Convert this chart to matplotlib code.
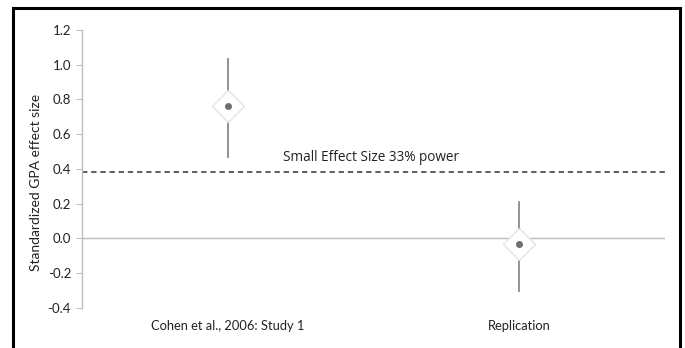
import matplotlib
matplotlib.use("Agg")
import matplotlib.pyplot as plt
from matplotlib.lines import Line2D

# datos
estudios = ["Cohen et al., 2006: Study 1", "Replication"]
efecto = [0.765, -0.03]
ic_bajo = [0.47, -0.30]
ic_alto = [1.03, 0.21]
umbral_pequeno = 0.38
yticks = [-0.4, -0.2, 0.0, 0.2, 0.4, 0.6, 0.8, 1.0, 1.2]

plt.rcParams["font.family"] = ["Lato", "DejaVu Sans"]

fig = plt.figure(figsize=(6.85, 3.48), dpi=100)
ax = fig.add_axes([0.12, 0.115, 0.851, 0.799])

pos = [0.5, 1.5]
gris = "#8a8a8a"

# linea del cero y umbral
ax.axhline(0, color="#bdbdbd", lw=1, zorder=1)
ax.axhline(umbral_pequeno, color="#333333", lw=1.1, ls=(0, (3.5, 2.5)), zorder=1)
ax.text(0.69, 0.466, "Small Effect Size 33% power", fontsize=9.8,
        family=["Open Sans", "DejaVu Sans"], color="#222222", va="center", ha="left")

# barras de error y marcadores
for x, m, lo, hi in zip(pos, efecto, ic_bajo, ic_alto):
    ax.plot([x, x], [lo, hi], color=gris, lw=1.3, zorder=2)
ax.plot(pos, efecto, "D", ms=16, mfc="white", mec="#e4e4e4", mew=1, zorder=3)
ax.plot(pos, efecto, "o", ms=4, color="#707070", zorder=4)

ax.set_xlim(0, 2)
ax.set_ylim(-0.4, 1.2)
ax.set_yticks(yticks)
ax.set_yticklabels([f"{v:.1f}" for v in yticks], fontsize=9.5, color="#222222")
ax.set_xticks(pos)
ax.set_xticklabels(estudios, fontsize=9.3, color="#222222")
ax.tick_params(axis="x", length=0, pad=9)
ax.tick_params(axis="y", length=4, color="#bdbdbd", pad=4)
ax.set_ylabel("Standardized GPA effect size", fontsize=10, color="#222222")
ax.yaxis.set_label_coords(-0.069, 0.45)

for lado in ["top", "right", "bottom"]:
    ax.spines[lado].set_visible(False)
ax.spines["left"].set_color("#bdbdbd")
ax.spines["left"].set_linewidth(1)

# marco negro de la figura
for xs, ys in [([0.019, 0.019], [0, 0.977]), ([0.019, 0.993], [0.977, 0.977]),
               ([0.993, 0.993], [0.977, 0])]:
    fig.add_artist(Line2D(xs, ys, transform=fig.transFigure, color="black", lw=2.2))

plt.savefig("out.png", dpi=100)
